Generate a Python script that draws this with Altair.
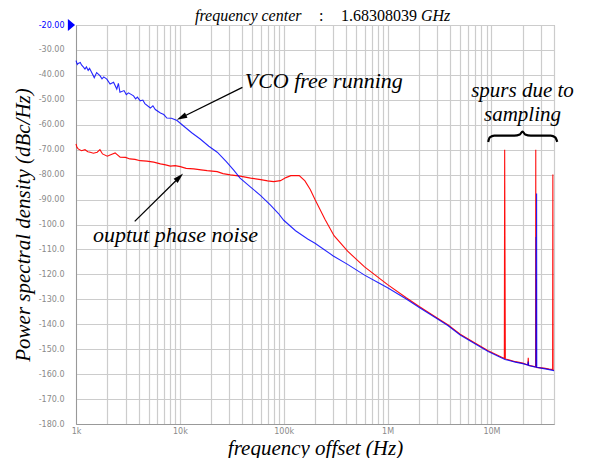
import altair as alt
import pandas as pd

# ---------------- data ----------------
VCO_FREQ = [1000, 1030, 1050, 1100, 1130, 1180, 1220, 1260, 1310, 1350, 1400, 1500, 1580,
            1700, 1780, 1850, 1980, 2130, 2300, 2470, 2560, 2650, 2900, 3050, 3200, 3580,
            3750, 3900, 4150, 4400, 4600, 5200, 5500, 5800, 6500, 7000, 7500, 8300, 9400,
            11000, 13000, 15700, 19000, 22900, 28000, 33000, 38000, 48000, 60000, 75000,
            89000, 100000, 130000, 170000, 200000, 300000, 412000, 600000, 800000,
            1000000, 1500000, 2000000, 3000000, 3800000, 5000000, 7000000, 9300000,
            12000000, 13500000, 17000000, 20000000, 22400000, 22600000, 22800000,
            26000000, 26800000, 26900000, 27000000, 27100000, 27200000, 27300000,
            30000000, 35000000, 40000000]
VCO_PSD = [-34.3, -35.8, -35.4, -35.0, -36.0, -36.9, -37.7, -36.8, -38.2, -37.4, -38.6, -41.1, -39.1,
           -40.3, -41.6, -40.8, -41.7, -43.7, -43.0, -45.7, -43.4, -47.0, -46.3, -47.9, -47.2, -48.4,
           -49.6, -48.9, -50.4, -50.1, -51.5, -53.3, -52.4, -53.9, -55.3, -55.9, -57.3, -57.4, -58.3,
           -60.7, -63.2, -65.7, -68.6, -71.0, -74.8, -78.2, -81.4, -85.0, -88.4, -92.3,
           -95.6, -98.3, -102.5, -105.8, -107.5, -112.6, -116.0, -120.3, -123.2,
           -125.4, -129.8, -133.2, -137.8, -140.5, -144.3, -147.9, -150.9,
           -153.1, -154.1, -155.2, -155.8, -156.4, -155.0, -156.6,
           -157.1, -157.2, -105.0, -157.2, -157.2, -87.6, -157.3,
           -157.6, -158.1, -158.6]

OUT_FREQ = [1000, 1020, 1050, 1130, 1220, 1300, 1370, 1470, 1600, 1700, 1800, 2000, 2130,
            2380, 2660, 3000, 3300, 3700, 4150, 4800, 5600, 6500, 7300, 8100, 9000,
            10100, 11500, 13600, 16000, 18300, 22900, 26000, 30600, 38000, 48000,
            60000, 70000, 80000, 93000, 105000, 117000, 141000, 160000, 180000,
            200000, 250000, 305000, 412000, 600000, 800000, 1000000, 1500000, 2000000,
            3000000, 3800000, 5000000, 7000000, 9300000, 12000000, 13300000, 13400000,
            13500000, 13600000, 17000000, 20000000, 22400000, 22600000, 22800000,
            26000000, 26600000, 26700000, 26800000, 26950000, 27000000, 27050000,
            32000000, 36000000, 38800000, 39000000, 39100000, 39200000, 40000000]
OUT_PSD = [-67.7, -69.0, -69.7, -70.4, -70.0, -70.8, -71.0, -71.4, -71.0, -70.0, -71.7, -72.6, -72.1,
           -71.3, -73.0, -73.1, -73.7, -73.9, -74.4, -74.6, -75.0, -75.7, -76.1, -76.6, -76.4,
           -76.8, -77.5, -77.7, -78.1, -78.4, -78.8, -79.6, -80.1, -80.6, -81.4,
           -82.0, -82.5, -82.8, -82.4, -81.2, -80.4, -80.4, -82.5, -86.0,
           -90.0, -98.0, -104.5, -110.7, -117.0, -121.0, -124.1, -129.3, -132.8,
           -137.5, -140.2, -144.0, -147.6, -150.6, -152.8, -153.7, -70.0,
           -112.0, -153.9, -155.0, -155.6, -156.3, -153.4, -156.5,
           -157.0, -157.0, -70.0, -157.0, -157.2, -122.0, -157.3,
           -157.6, -158.0, -158.2, -80.0, -119.0, -158.3, -158.5]

X_TICK_VALUES = [1000, 2000, 3000, 4000, 5000, 6000, 7000, 8000, 9000,
                 10000, 20000, 30000, 40000, 50000, 60000, 70000, 80000, 90000,
                 100000, 200000, 300000, 400000, 500000, 600000, 700000, 800000, 900000,
                 1000000, 2000000, 3000000, 4000000, 5000000, 6000000, 7000000, 8000000, 9000000,
                 10000000, 20000000, 30000000, 40000000]
X_LABEL_VALUES = [1000, 10000, 100000, 1000000, 10000000]
X_LABEL_TEXTS = ["1k", "10k", "100k", "1M", "10M"]
Y_TICK_VALUES = [-180, -170, -160, -150, -140, -130, -120, -110, -100,
                 -90, -80, -70, -60, -50, -40, -30, -20]

# brace over the spurs (decoration, in data space)
BRACE_FREQ = [9300000, 9640000, 10650000, 16600000, 18750000, 19900000,
              21100000, 23900000, 37200000, 41100000, 43000000]
BRACE_PSD = [-66.9, -65.1, -64.4, -64.4, -63.9, -62.7, -63.9, -64.4, -64.4, -65.1, -66.9]


def frame(freqs, vals):
    return pd.DataFrame({"freq": freqs, "psd": vals, "idx": list(range(len(freqs)))})


label_expr_x = ""
for v, t in zip(X_LABEL_VALUES, X_LABEL_TEXTS):
    label_expr_x += f"datum.value == {v} ? '{t}' : "
label_expr_x += "''"

GRID = "#cccccc"
LABEL_GRAY = "#8a8a8a"
SERIF = "Liberation Serif"

x_axis = alt.Axis(values=X_TICK_VALUES, labelExpr=label_expr_x, grid=True,
                  gridColor=GRID, gridWidth=1.2, ticks=False, domainColor="#999999",
                  labelFont="DejaVu Sans", labelFontSize=8, labelColor=LABEL_GRAY,
                  labelPadding=3, labelFlush=False, labelOverlap=False,
                  title="frequency offset (Hz)", titleFont=SERIF, titleFontStyle="italic",
                  titleFontWeight="normal", titleFontSize=21, titleColor="black",
                  titlePadding=2)
y_axis = alt.Axis(values=Y_TICK_VALUES,
                  labelExpr="'-' + format(abs(datum.value), abs(datum.value) < 100 ? '.2f' : '.1f')",
                  grid=True, gridColor=GRID, gridWidth=1.2, ticks=False, domainColor="#999999",
                  labelFont="DejaVu Sans", labelFontSize=8,
                  labelColor={"condition": {"test": "datum.value == -20", "value": "#0000ff"},
                              "value": LABEL_GRAY},
                  labelPadding=12, labelOverlap=False,
                  title="Power spectral density (dBc/Hz)", titleFont=SERIF,
                  titleFontStyle="italic", titleFontWeight="normal", titleFontSize=21,
                  titleColor="black", titlePadding=5)

X_ENC = alt.X("freq:Q", scale=alt.Scale(type="log", domain=[1000, 40000000], nice=False), axis=x_axis)
Y_ENC = alt.Y("psd:Q", scale=alt.Scale(domain=[-180, -20], nice=False, zero=False), axis=y_axis)

out_line = alt.Chart(frame(OUT_FREQ, OUT_PSD)).mark_line(
    color="#ff0000", strokeWidth=1.1, opacity=0.95).encode(x=X_ENC, y=Y_ENC, order="idx:Q")
vco_line = alt.Chart(frame(VCO_FREQ, VCO_PSD)).mark_line(
    color="#0000ff", strokeWidth=1.1, opacity=0.85).encode(x=X_ENC, y=Y_ENC, order="idx:Q")

brace = alt.Chart(frame(BRACE_FREQ, BRACE_PSD)).mark_line(
    color="black", strokeWidth=2.2, interpolate="monotone").encode(x=X_ENC, y=Y_ENC, order="idx:Q")

one = pd.DataFrame({"t": [""]})


def text(label, x, y, size, style="italic", align="left", **kw):
    return alt.Chart(pd.DataFrame({"t": [label]})).mark_text(
        font=SERIF, fontSize=size, fontStyle=style, align=align, baseline="alphabetic",
        color="black", **kw).encode(text="t:N", x=alt.value(x), y=alt.value(y))


def arrow(x1, y1, xc, yc, angle):
    shaft = alt.Chart(one).mark_rule(color="black", strokeWidth=1.3).encode(
        x=alt.value(x1), y=alt.value(y1), x2=alt.value(xc), y2=alt.value(yc))
    head = alt.Chart(one).mark_point(shape="M0,-1L0.55,1L-0.55,1Z", filled=True, size=110,
                                     opacity=1, color="black", angle=angle).encode(
        x=alt.value(xc), y=alt.value(yc))
    return shaft + head


marker = alt.Chart(one).mark_point(shape="M-0.6,-1L0.6,0L-0.6,1Z", filled=True, size=144,
                                   opacity=1, color="#0000ff").encode(
    x=alt.value(-4.5), y=alt.value(0))

layers = [
    out_line, vco_line, brace, marker,
    arrow(166.4, 62.4, 105.5, 92.5, 243.7),
    arrow(58.7, 196.4, 103.4, 152.2, 45.3),
    text("VCO free running", 168.7, 63, 22),
    text("ouptut phase noise", 17, 217, 22),
    text("spurs due to", 446.5, 72, 21, align="center"),
    text("sampling", 446.5, 95.5, 21, align="center"),
    text("frequency center", 119, -3.8, 16),
    text(":", 243, -3.8, 16, style="normal"),
    text("1.68308039", 265, -3.8, 16, style="normal"),
    text("GHz", 345, -3.8, 16),
]

chart = alt.layer(*layers).properties(
    width=478, height=399,
    autosize=alt.AutoSizeParams(type="none"),
    padding={"left": 68, "top": 17, "right": 25, "bottom": 34},
).configure_view(stroke="#a0a0a0", strokeWidth=1)

chart.save("out.html", embed_options={"renderer": "svg", "actions": False})
